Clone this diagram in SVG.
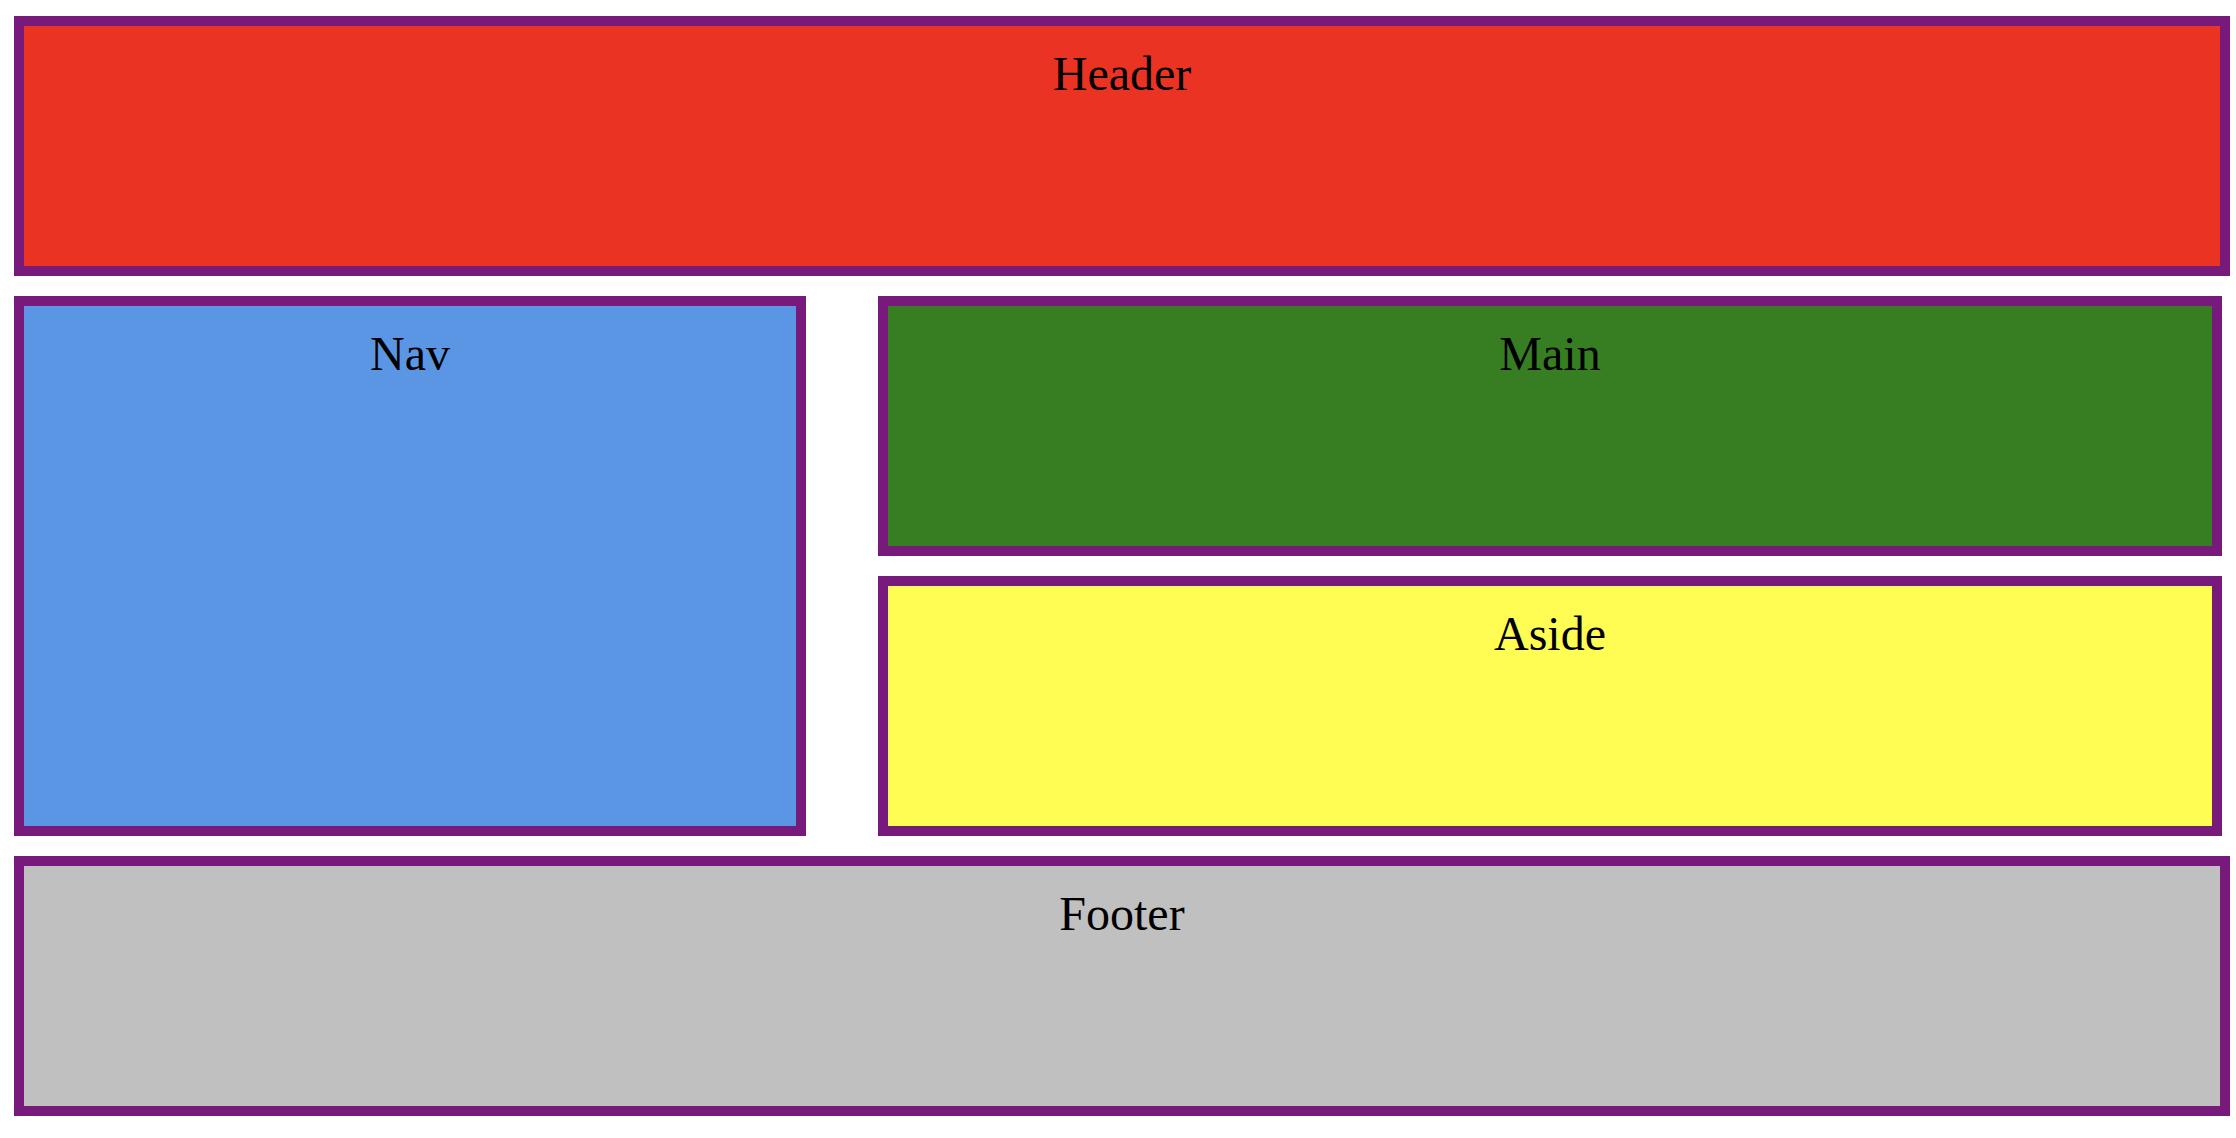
<svg xmlns="http://www.w3.org/2000/svg" width="2236" height="1138" viewBox="0 0 2236 1138">
<style>
.box{stroke:#771A7B;stroke-width:10}
.lbl{font-family:"Liberation Serif","Times New Roman",serif;font-size:48px;fill:#000;text-anchor:middle}
</style>
<rect width="2236" height="1138" fill="#fff"/>
<g id="header"><rect class="box" x="19" y="21" width="2206" height="250" fill="#EA3323"/><text class="lbl" x="1122" y="90">Header</text></g>
<g id="nav"><rect class="box" x="19" y="301" width="782" height="530" fill="#5B96E5"/><text class="lbl" x="410" y="370">Nav</text></g>
<g id="main"><rect class="box" x="883" y="301" width="1334" height="250" fill="#377E22"/><text class="lbl" x="1550" y="370">Main</text></g>
<g id="aside"><rect class="box" x="883" y="581" width="1334" height="250" fill="#FFFD54"/><text class="lbl" x="1550" y="650">Aside</text></g>
<g id="footer"><rect class="box" x="19" y="861" width="2206" height="250" fill="#C0C0C0"/><text class="lbl" x="1122" y="930">Footer</text></g>
<g id="connectors"/>
</svg>
